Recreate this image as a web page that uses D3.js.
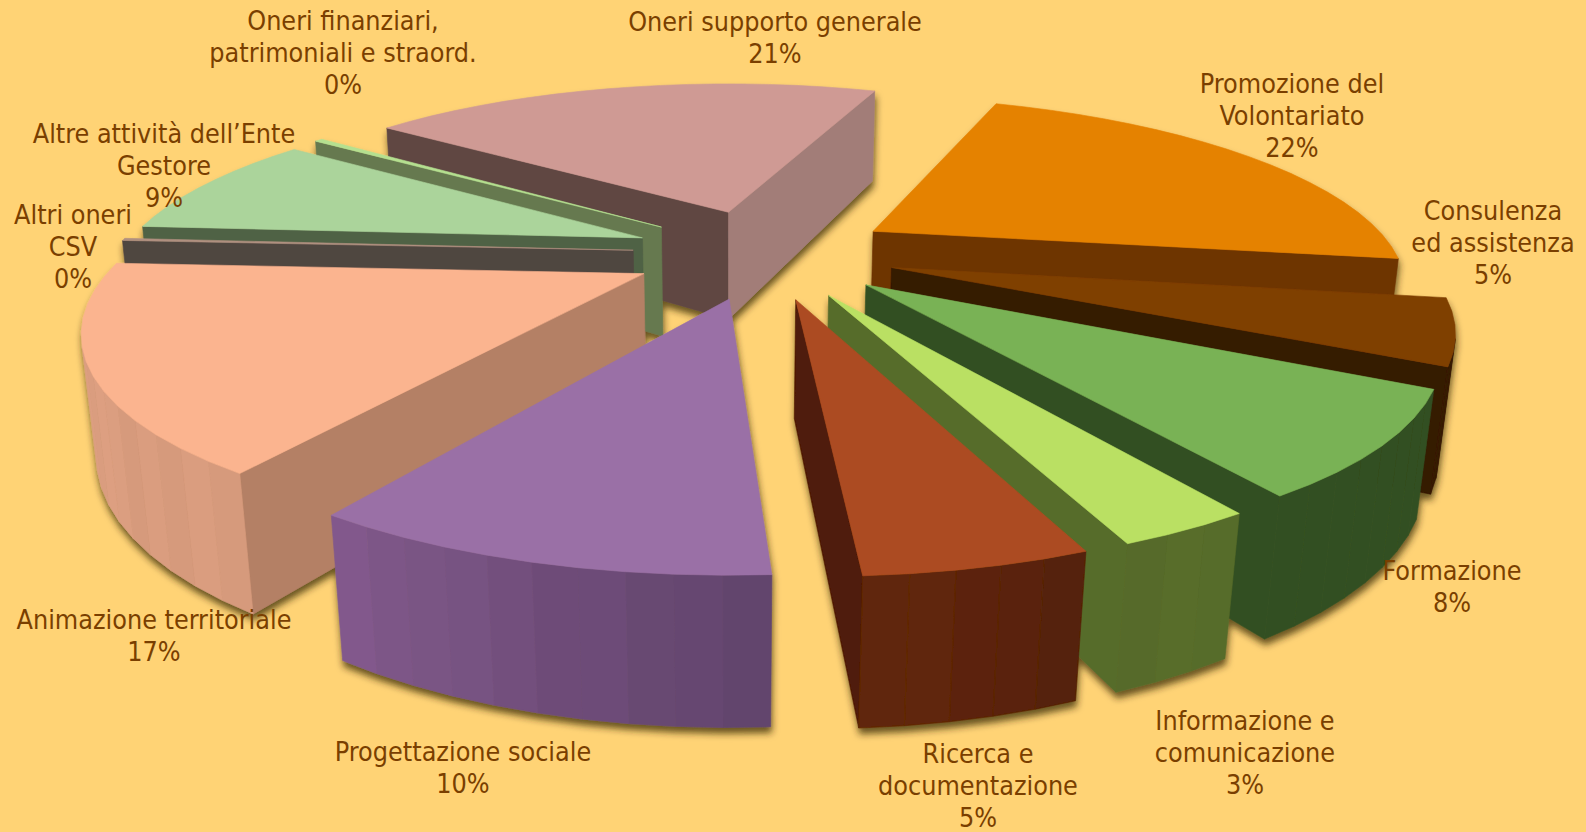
<!DOCTYPE html>
<html><head><meta charset="utf-8">
<script src="https://cdn.jsdelivr.net/npm/d3@7/dist/d3.min.js"></script>
<style>html,body{margin:0;padding:0;background:#ffd375;overflow:hidden}svg{display:block}</style>
</head><body><svg id="c" width="1586" height="832"></svg>
<script>
const categories=[["Promozione del","Volontariato"],["Consulenza","ed assistenza"],["Formazione"],["Informazione e","comunicazione"],["Ricerca e","documentazione"],["Progettazione sociale"],["Animazione territoriale"],["Altri oneri","CSV"],["Altre attività dell’Ente","Gestore"],["Oneri finanziari,","patrimoniali e straord."],["Oneri supporto generale"]];
const values=[21.6,5.3,8.2,3.1,5,10.3,16.5,0.2,9,0.3,20.5];
const topColors=["#e58200","#7f3f00","#79b254","#bae063","#ac4c20","#9a70a6","#fbb48f","#b09080","#abd49b","#b5e090","#cf9a94"];
const startWallColors=["#6e3400","#351a00","#335022","#576c2a","#4f1a07","#62426c","#b48065","#504640","#4f6245","#66794f","#604743"];
const endWallColors=["#6e3400","#351a00","#335022","#576c2a","#4f1a07","#82598c","#b48065","#504640","#4f6245","#66794f","#a27d78"];
const arcFromColors=["#6e3400","#351a00","#335022","#576c2a","#521f07","#60436b","#d69a7c","#504640","#4f6245","#66794f","#604743"];
const arcToColors=["#6e3400","#351a00","#335022","#576c2a","#652807","#82598c","#e0a184","#504640","#4f6245","#66794f","#604743"];
const bandShades=[0,0.05,-0.03,0.03,-0.05,0.015,0.05,-0.015];
const bandAmp=[0,0,0,0.5,1,0.7,0.8,0,0,0,0];
const labelX=[1292,1493,1452,1245,978,463,154,73,164,343,775];
const labelY=[93,220,580,730,763,761,629,224,143,30,31];

const W=1586,H=832,cx=731,cy=253,f=1957,D=3.28,elev=20*Math.PI/180;
const R=0.875,thick=0.205,explode=0.22,centerX=0.055,centerY=0,startDeg=21.2,lineGap=32;
const sinE=Math.sin(elev),cosE=Math.cos(elev);
const project=(X,Y,Z)=>{const d=D+Y*cosE-Z*sinE;return [cx+f*X/d,cy-f*(Y*sinE+Z*cosE)/d];};
const svg=d3.select("#c");
svg.append("rect").attr("width",W).attr("height",H).attr("fill","#ffd375");
const flt=svg.append("defs").append("filter").attr("id","sh").attr("x","-10%").attr("y","-10%").attr("width","120%").attr("height","120%");
flt.append("feDropShadow").attr("dx",1).attr("dy",6).attr("stdDeviation",3.6).attr("flood-color","#2e2400").attr("flood-opacity",0.72);
const root=svg.append("g").attr("filter","url(#sh)");
const pie=d3.pie().sort(null).startAngle(startDeg*Math.PI/180).endAngle((startDeg+360)*Math.PI/180);
const arcs=pie(values);
const line=d3.line();
const area=p=>d3.polygonArea(p);
const slices=arcs.map((a,i)=>{
  const mid=(a.startAngle+a.endAngle)/2;
  return {i,a,ox:centerX+explode*Math.sin(mid),oy:centerY+explode*Math.cos(mid)};
}).sort((p,q)=>d3.descending(p.oy,q.oy));
function poly(g,pts,col){g.append("path").attr("d",line(pts)+"Z").attr("fill",col).attr("stroke",col).attr("stroke-width",0.6).attr("stroke-linejoin","round");}
slices.forEach(s=>{
  const g=root.append("g"),a=s.a,i=s.i;
  const n=Math.max(2,Math.ceil((a.endAngle-a.startAngle)/(4*Math.PI/180)));
  const ang=d3.range(n+1).map(k=>a.startAngle+(a.endAngle-a.startAngle)*k/n);
  const P=(t,Z)=>project(s.ox+R*Math.sin(t),s.oy+R*Math.cos(t),Z);
  const C=Z=>project(s.ox,s.oy,Z);
  const wall=(p,q,p2,q2,col)=>{const q4=[p,q,q2,p2];if(area(q4)>0)poly(g,q4,col);};
  wall(C(0),P(a.startAngle,0),C(-thick),P(a.startAngle,-thick),startWallColors[i]);
  wall(P(a.endAngle,0),C(0),P(a.endAngle,-thick),C(-thick),endWallColors[i]);
  const mix=d3.interpolateRgb(arcFromColors[i],arcToColors[i]);
  d3.range(n).forEach(k=>{
    const base=d3.color(mix((k+.5)/n)),sh=bandShades[k%bandShades.length]*bandAmp[i];
    const col=sh>=0?base.brighter(sh):base.darker(-sh);
    wall(P(ang[k],0),P(ang[k+1],0),P(ang[k],-thick),P(ang[k+1],-thick),col.formatHex());
  });
  poly(g,[C(0),...ang.map(t=>P(t,0))],topColors[i]);
});
const labels=svg.append("g").attr("font-family","'DejaVu Sans Condensed','DejaVu Sans',sans-serif").attr("font-size",26.7).attr("fill","#7a3f00").attr("text-anchor","middle");
categories.forEach((c,i)=>{
  [...c,Math.round(values[i])+"%"].forEach((t,k)=>{
    labels.append("text").attr("x",labelX[i]).attr("y",labelY[i]+k*lineGap).text(t);
  });
});
</script></body></html>
